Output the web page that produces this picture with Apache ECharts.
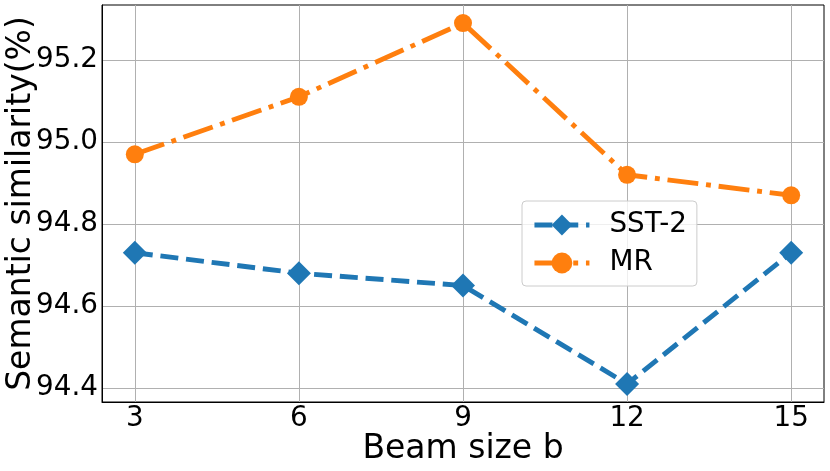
<!DOCTYPE html>
<html>
<head>
<meta charset="utf-8">
<script src="https://cdn.jsdelivr.net/npm/echarts@6/dist/echarts.min.js"></script>
<style>html,body{margin:0;padding:0;background:#fff}#c{width:830px;height:471px}</style>
</head>
<body>
<div id="c"></div>
<script>
const beamSizes = [3, 6, 9, 12, 15];
const sst2 = [94.73, 94.68, 94.65, 94.41, 94.73];
const mr = [94.97, 95.11, 95.29, 94.92, 94.87];
const yTicks = [94.4, 94.6, 94.8, 95.0, 95.2];
const xTicks = [3, 6, 9, 12, 15];

const FONT = 'DejaVu Sans';
const chart = echarts.init(document.getElementById('c'), null, {renderer: 'canvas'});
const pair = (xs, ys) => xs.map((x, i) => [x, ys[i]]);

chart.setOption({
  animation: false,
  backgroundColor: '#fff',
  textStyle: {fontFamily: FONT},
  grid: {left: 102, right: 6, top: 5, bottom: 69, containLabel: false, outerBoundsMode: 'none',
    show: true, borderColor: '#000', borderWidth: 1, backgroundColor: 'transparent'},
  xAxis: {
    type: 'value', min: 2.4, max: 15.6,
    name: 'Beam size b', nameLocation: 'middle', nameGap: 31, nameMoveOverlap: false,
    nameTextStyle: {fontFamily: FONT, fontSize: 33, color: '#000'},
    axisLine: {show: true, lineStyle: {color: '#000', width: 1}},
    axisTick: {show: false, customValues: xTicks},
    axisLabel: {customValues: xTicks, fontFamily: FONT, fontSize: 27.8, color: '#000', margin: 3},
    splitLine: {show: true, lineStyle: {color: '#b0b0b0', width: 1}}
  },
  yAxis: {
    type: 'value', min: 94.366, max: 95.334,
    name: 'Semantic similarity(%)', nameLocation: 'middle', nameGap: 64, nameMoveOverlap: false,
    nameTextStyle: {fontFamily: FONT, fontSize: 33, color: '#000'},
    axisLine: {show: true, lineStyle: {color: '#000', width: 1}},
    axisTick: {show: false, customValues: yTicks},
    axisLabel: {customValues: yTicks, fontFamily: FONT, fontSize: 27.8, color: '#000', margin: 4,
      formatter: v => v.toFixed(1)},
    splitLine: {show: true, lineStyle: {color: '#b0b0b0', width: 1}}
  },
  legend: {
    orient: 'vertical', left: 522, top: 201,
    padding: [10, 10, 9, 10], itemGap: 10, itemWidth: 55, itemHeight: 26,
    lineStyle: {width: 4.9},
    backgroundColor: 'rgba(255,255,255,0.8)', borderColor: '#cccccc', borderWidth: 1, borderRadius: 4,
    textStyle: {fontFamily: FONT, fontSize: 27.8, color: '#000', padding: [0, 0, 0, 15]},
    data: ['SST-2', 'MR']
  },
  series: [
    {
      name: 'SST-2', type: 'line', data: pair(beamSizes, sst2),
      symbol: 'diamond', symbolSize: 24,
      itemStyle: {color: '#1f77b4'},
      lineStyle: {color: '#1f77b4', width: 4.9, type: [18, 7.8], cap: 'butt'}
    },
    {
      name: 'MR', type: 'line', data: pair(beamSizes, mr),
      symbol: 'circle', symbolSize: 18,
      itemStyle: {color: '#ff7f0e'},
      lineStyle: {color: '#ff7f0e', width: 4.9, type: [31, 7.8, 4.9, 7.8], cap: 'butt'}
    }
  ]
});
</script>
</body>
</html>
